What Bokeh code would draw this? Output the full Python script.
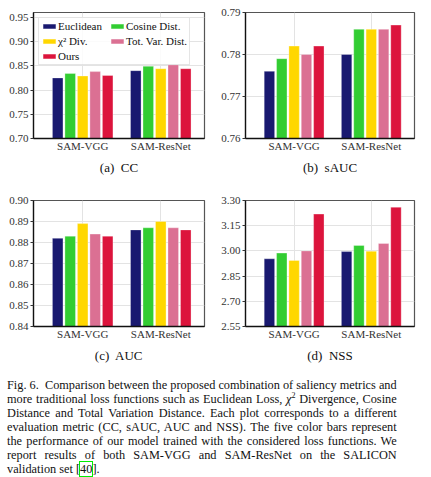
from bokeh.plotting import figure
from bokeh.layouts import column, row
from bokeh.models import (Div, Legend, LegendItem, Range1d, FixedTicker, ColumnDataSource,
                          NumeralTickFormatter, CustomJSTickFormatter)
from bokeh.embed import file_html
from bokeh.resources import INLINE

groups = ["SAM-VGG", "SAM-ResNet"]
series = ["Euclidean", "Cosine Dist.", "\u03c7\u00b2 Div.", "Tot. Var. Dist.", "Ours"]
colors = ["#191970", "#32CD32", "#FFD700", "#DB7093", "#DC143C"]
legend_order = [0, 2, 4, 1, 3]

cc = [[0.825, 0.840], [0.834, 0.849], [0.829, 0.844], [0.838, 0.852], [0.830, 0.844]]
sauc = [[0.776, 0.780], [0.779, 0.786], [0.782, 0.786], [0.780, 0.786], [0.782, 0.787]]
auc = [[0.882, 0.886], [0.883, 0.887], [0.889, 0.890], [0.884, 0.887], [0.883, 0.886]]
nss = [[2.953, 2.996], [2.987, 3.032], [2.943, 2.998], [3.000, 3.044], [3.219, 3.260]]

cc_ticks = [0.70, 0.75, 0.80, 0.85, 0.90, 0.95]
sauc_ticks = [0.76, 0.77, 0.78, 0.79]
auc_ticks = [0.84, 0.85, 0.86, 0.87, 0.88, 0.89, 0.90]
nss_ticks = [2.55, 2.70, 2.85, 3.00, 3.15, 3.30]

captions = ["(a)\u00a0 CC", "(b)\u00a0 sAUC", "(c)\u00a0 AUC", "(d)\u00a0 NSS"]

SERIF = "Liberation Serif"


def make(vals, ylo, yhi, ticks, caption, width, height, bl, br, bt, bb, legend=False):
    p = figure(width=width, height=height, x_range=Range1d(-0.63, 1.56),
               y_range=Range1d(ylo, yhi), output_backend="svg", toolbar_location=None,
               title=caption, title_location="below",
               min_border_left=bl, min_border_right=br, min_border_top=bt, min_border_bottom=bb)
    p.title.align = "center"
    p.title.text_font = SERIF
    p.title.text_font_size = "13px"
    p.title.text_font_style = "normal"
    p.title.text_color = "#111111"
    p.title.standoff = 6
    items = []
    for i, (name, col) in enumerate(zip(series, colors)):
        src = ColumnDataSource(dict(x=[g + (i - 2) * 0.16 for g in range(len(groups))], top=vals[i]))
        r = p.vbar(x="x", top="top", bottom=ylo, width=0.135, source=src,
                   fill_color=col, line_color="white", line_width=0.6, line_alpha=0.5)
        items.append(LegendItem(label=name, renderers=[r]))
    p.xaxis.ticker = FixedTicker(ticks=list(range(len(groups))))
    p.xaxis.formatter = CustomJSTickFormatter(args=dict(names=groups),
                                              code="return names[Math.round(tick)] || ''")
    p.yaxis.ticker = FixedTicker(ticks=ticks)
    p.yaxis.formatter = NumeralTickFormatter(format="0.00")
    for ax in (p.xaxis[0], p.yaxis[0]):
        ax.major_label_text_font = SERIF
        ax.major_label_text_font_size = "11px"
        ax.major_label_text_font_style = "normal"
        ax.major_label_text_color = "#333333"
        ax.axis_line_color = "#111111"
        ax.axis_line_width = 1.3
        ax.minor_tick_line_color = None
        ax.major_tick_in = 0
    p.xaxis.major_tick_out = 0
    p.xaxis.major_label_standoff = 1
    p.yaxis.major_tick_out = 3
    p.yaxis.major_tick_line_color = "#333333"
    p.yaxis.major_label_standoff = 2
    p.xgrid.ticker = FixedTicker(ticks=list(range(len(groups))))
    p.ygrid.ticker = FixedTicker(ticks=ticks)
    p.grid.grid_line_color = "#e3e3e3"
    p.grid.grid_line_width = 1
    p.outline_line_color = "#555555"
    p.outline_line_width = 1.2
    p.background_fill_color = "white"
    if legend:
        lg = Legend(items=[items[k] for k in legend_order], location="top_left", ncols=2)
        lg.label_text_font = SERIF
        lg.label_text_font_size = "11px"
        lg.label_text_color = "#111111"
        lg.label_standoff = 1
        lg.label_width = 48
        lg.glyph_width = 16
        lg.glyph_height = 6
        lg.label_height = 12
        lg.spacing = 3
        lg.padding = 2
        lg.margin = 5
        lg.border_line_color = "#cccccc"
        lg.background_fill_alpha = 0.85
        p.add_layout(lg)
    return p


fa = make(cc, 0.70, 0.96, cc_ticks, captions[0], 215, 190, 33, 11, 12, 52, legend=True)
fb = make(sauc, 0.76, 0.79, sauc_ticks, captions[1], 216, 190, 30, 17, 12, 52)
fc = make(auc, 0.84, 0.90, auc_ticks, captions[2], 215, 182, 33, 11, 10, 46)
fd = make(nss, 2.55, 3.30, nss_ticks, captions[3], 216, 182, 30, 17, 10, 46)

lines = [
    "Fig. 6.&nbsp; Comparison between the proposed combination of saliency metrics and",
    "more traditional loss functions such as Euclidean Loss, <i>\u03c7</i><sup style='font-size:8px;line-height:0'>2</sup> Divergence, Cosine",
    "Distance and Total Variation Distance. Each plot corresponds to a different",
    "evaluation metric (CC, sAUC, AUC and NSS). The five color bars represent",
    "the performance of our model trained with the considered loss functions. We",
    "report results of both SAM-VGG and SAM-ResNet on the SALICON",
]
html = ""
for l in lines:
    html += ("<div style='text-align:justify;text-align-last:justify;white-space:nowrap;"
             f"height:14px;line-height:14px'>{l}</div>")
html += ("<div style='height:14px;line-height:14px;white-space:nowrap'>validation set "
         "[<span style='outline:1px solid #00ee00'>40</span>].</div>")

cap = Div(text=html, width=423, height=98,
          styles={"font-family": "'Liberation Serif', serif", "font-size": "12.3px",
                  "color": "#111111", "margin-top": "6px", "margin-left": "7px"})

layout = column(row(fa, fb), row(fc, fd), cap)
open("out.html", "w").write(file_html(layout, INLINE))
